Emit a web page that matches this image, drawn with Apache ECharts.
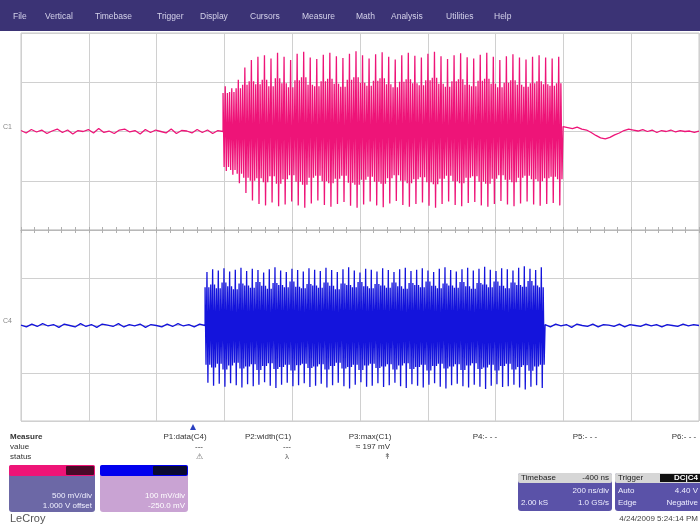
<!DOCTYPE html>
<html><head><meta charset="utf-8">
<script src="https://cdn.jsdelivr.net/npm/echarts/dist/echarts.min.js"></script>
<style>html,body{margin:0;padding:0;background:#fff}#c{width:700px;height:525px}</style>
</head><body><div id="c"></div>
<script>
// ---- data (vertical units: divisions, time: ns) ----
const timeTicks = [0, 200, 400, 600, 800, 1000, 1200, 1400, 1600, 1800, 2000];
const pinkBurst = [596, 1599];
const blueBurst = [543, 1546];
const pinkTop = [0.92,0.88,1.05,1.30,1.45,1.52,1.55,1.48,1.60,1.52,
  1.45,1.58,1.62,1.50,1.47,1.56,1.60,1.53,1.49,1.58,
  1.63,1.55,1.48,1.57,1.61,1.52,1.46,1.55,1.60,1.54,
  1.50,1.58,1.62,1.53,1.47,1.55,1.59,1.51,1.48,1.56,
  1.60,1.52,1.45,1.53,1.57,1.50,1.46,1.52,1.55,1.50,
  1.48,1.52];
const pinkBot = [-0.80,-0.88,-1.05,-1.25,-1.40,-1.47,-1.50,-1.44,-1.52,-1.48,
  -1.42,-1.50,-1.55,-1.46,-1.40,-1.49,-1.53,-1.47,-1.43,-1.51,
  -1.55,-1.48,-1.42,-1.50,-1.54,-1.46,-1.41,-1.49,-1.53,-1.47,
  -1.44,-1.51,-1.55,-1.47,-1.42,-1.49,-1.52,-1.45,-1.43,-1.50,
  -1.53,-1.47,-1.41,-1.48,-1.52,-1.46,-1.42,-1.48,-1.51,-1.47,
  -1.45,-1.50];
const pinkCoreHi = [0.78,0.80,0.88,0.95,1.02,0.96,1.05,0.92,1.08,0.98,
  0.90,1.04,1.10,0.95,0.92,1.02,1.07,0.97,0.91,1.05,
  1.10,0.99,0.93,1.03,1.08,0.96,0.90,1.01,1.06,0.98,
  0.94,1.04,1.09,0.97,0.91,1.02,1.06,0.95,0.92,1.03,
  1.07,0.97,0.90,0.99,1.04,0.95,0.91,0.98,1.02,0.96,
  0.93,0.98];
const pinkCoreLo = [-0.72,-0.78,-0.86,-0.94,-1.00,-0.95,-1.03,-0.91,-1.06,-0.97,
  -0.89,-1.02,-1.08,-0.94,-0.90,-1.01,-1.05,-0.96,-0.90,-1.04,
  -1.08,-0.98,-0.92,-1.02,-1.06,-0.95,-0.89,-1.00,-1.05,-0.97,
  -0.93,-1.03,-1.07,-0.96,-0.90,-1.01,-1.05,-0.94,-0.91,-1.02,
  -1.06,-0.96,-0.89,-0.98,-1.03,-0.94,-0.90,-0.97,-1.01,-0.95,
  -0.92,-0.97];
const blueTop = [1.12,1.18,1.15,1.20,1.13,1.17,1.21,1.14,1.19,1.16,
  1.11,1.18,1.22,1.15,1.12,1.19,1.16,1.13,1.20,1.17,
  1.14,1.21,1.16,1.12,1.18,1.22,1.15,1.11,1.19,1.17,
  1.13,1.20,1.16,1.12,1.18,1.21,1.14,1.17,1.20,1.15,
  1.12,1.19,1.22,1.16,1.13,1.18,1.21,1.15,1.19,1.23,
  1.17,1.14,1.20,1.18,1.15,1.21,1.24,1.19,1.16,1.22];
const blueBot = [-1.20,-1.26,-1.22,-1.28,-1.21,-1.25,-1.30,-1.23,-1.27,-1.24,
  -1.19,-1.26,-1.31,-1.24,-1.20,-1.27,-1.25,-1.21,-1.29,-1.26,
  -1.22,-1.30,-1.25,-1.20,-1.27,-1.32,-1.24,-1.19,-1.28,-1.26,
  -1.21,-1.29,-1.25,-1.20,-1.27,-1.31,-1.23,-1.26,-1.30,-1.24,
  -1.21,-1.28,-1.32,-1.25,-1.22,-1.27,-1.30,-1.24,-1.28,-1.33,
  -1.26,-1.23,-1.29,-1.27,-1.24,-1.30,-1.34,-1.28,-1.25,-1.31];
const blueCoreHi = [0.80,0.86,0.78,0.90,0.82,0.76,0.88,0.84,0.79,0.91,
  0.83,0.77,0.89,0.85,0.80,0.92,0.81,0.78,0.87,0.84,
  0.79,0.90,0.83,0.76,0.88,0.85,0.80,0.91,0.82,0.78,
  0.87,0.84,0.79,0.90,0.82,0.77,0.89,0.85,0.80,0.92,
  0.83,0.78,0.88,0.84,0.79,0.91,0.82,0.77,0.89,0.86,
  0.80,0.92,0.83,0.78,0.90,0.85,0.81,0.93,0.84,0.80];
const blueCoreLo = [-0.82,-0.88,-0.80,-0.92,-0.84,-0.78,-0.90,-0.86,-0.81,-0.93,
  -0.85,-0.79,-0.91,-0.87,-0.82,-0.94,-0.83,-0.80,-0.89,-0.86,
  -0.81,-0.92,-0.85,-0.78,-0.90,-0.87,-0.82,-0.93,-0.84,-0.80,
  -0.89,-0.86,-0.81,-0.92,-0.84,-0.79,-0.91,-0.87,-0.82,-0.94,
  -0.85,-0.80,-0.90,-0.86,-0.81,-0.93,-0.84,-0.79,-0.91,-0.88,
  -0.82,-0.94,-0.85,-0.80,-0.92,-0.87,-0.83,-0.95,-0.86,-0.82];
const pinkPre = [0.02,-0.03,0.04,-0.01,0.03,-0.04,0.01,0.05,-0.02,0.03,
  -0.05,0.02,0.00,0.04,-0.03,0.06,-0.02,0.01,-0.04,0.03,
  0.05,-0.01,0.02,-0.05,0.04,-0.02,0.03,0.00,-0.03,0.05,
  -0.04,0.02,0.01,-0.03,0.04,-0.02,0.03,-0.04,0.02,0.00];
const pinkPost = [0.10,0.08,0.06,0.09,0.05,0.03,-0.02,-0.08,-0.13,-0.15,
  -0.12,-0.07,-0.03,0.02,0.05,0.03,0.01,0.04,0.00,0.03,
  -0.02,0.02,0.00,0.03,-0.01,0.02,0.00,0.01,-0.02,0.01];
const bluePre = [0.01,-0.03,0.03,-0.02,0.04,-0.01,0.02,-0.04,0.03,0.00,
  -0.03,0.04,-0.02,0.02,-0.04,0.03,0.01,-0.02,0.04,-0.03,
  0.02,-0.01,0.03,-0.04,0.02,0.00,-0.03,0.03,-0.02,0.04,
  -0.01,0.02,-0.03,0.03,0.00];
const bluePost = [0.02,-0.03,0.03,-0.01,0.02,-0.04,0.03,0.00,-0.02,0.03,
  -0.03,0.02,0.01,-0.02,0.03,-0.03,0.02,0.00,-0.02,0.03,
  -0.01,0.02,-0.03,0.02,0.00,-0.02,0.03,-0.01,0.02,0.00];

// ---- build series tables from the arrays ----
function seg(vals, t0, t1) {
  return vals.map((v, i) => [t0 + (t1 - t0) * i / (vals.length - 1), v]);
}
function burst(top, bot, cHi, cLo, t0, t1) {
  const out = [];
  const per = (t1 - t0) / top.length;
  for (let i = 0; i < top.length; i++) {
    const pat = [cHi[i], cLo[i], top[i], bot[i], cHi[i], cLo[i]];
    pat.forEach((v, k) => out.push([t0 + i * per + k * per / pat.length, v]));
  }
  return out;
}
const pinkData = [].concat(
  seg(pinkPre, 0, pinkBurst[0]),
  burst(pinkTop, pinkBot, pinkCoreHi, pinkCoreLo, pinkBurst[0], pinkBurst[1]),
  seg(pinkPost, pinkBurst[1], 2000));
const blueData = [].concat(
  seg(bluePre, 0, blueBurst[0]),
  burst(blueTop, blueBot, blueCoreHi, blueCoreLo, blueBurst[0], blueBurst[1]),
  seg(bluePost, blueBurst[1], 2000));

const F = 'Liberation Sans, Arial, sans-serif';
const gridCol = '#d0d0d0';
function xAx(gi, pos) {
  return {
    type: 'value', gridIndex: gi, min: timeTicks[0], max: timeTicks[timeTicks.length - 1],
    interval: 200, position: pos,
    axisLine: {show: true, onZero: false, lineStyle: {color: '#b8b8b8'}},
    axisTick: {show: true, inside: true, length: 3, lineStyle: {color: '#b0b0b0'}},
    minorTick: {show: true, splitNumber: 5, length: 3, lineStyle: {color: '#b0b0b0'}},
    axisLabel: {show: false},
    splitLine: {show: true, lineStyle: {color: gridCol, width: 1}}
  };
}
function yAx(gi) {
  return {
    type: 'value', gridIndex: gi, min: -2, max: 2, interval: 1,
    axisLine: {show: false}, axisTick: {show: false}, axisLabel: {show: false},
    splitLine: {show: true, lineStyle: {color: gridCol, width: 1}}
  };
}
function txt(x, y, s, o) {
  o = o || {};
  return {type: 'text', x: x, y: y, silent: true, z: 100, style: Object.assign({
    text: s, fill: '#333', font: (o.weight || 'normal') + ' ' + (o.size || 8) + 'px ' + F,
    textAlign: o.align || 'left', textVerticalAlign: 'middle'}, o.style || {})};
}
function rect(x, y, w, h, fill, r) {
  return {type: 'rect', silent: true, z: 90, shape: {x: x, y: y, width: w, height: h, r: r || 0}, style: {fill: fill}};
}
const menu = [['File',13],['Vertical',45],['Timebase',95],['Trigger',157],['Display',200],
  ['Cursors',250],['Measure',302],['Math',356],['Analysis',391],['Utilities',446],['Help',494]];

const graphic = [rect(0, 0, 700, 31, '#3b3375')]
  .concat(menu.map(m => txt(m[1], 17, m[0], {size: 8.5, style: {fill: '#d4d2ea'}})))
  .concat([
    txt(3, 127, 'C1', {size: 7, style: {fill: '#888'}}),
    txt(3, 321, 'C4', {size: 7, style: {fill: '#888'}}),
    {type: 'polygon', silent: true, z: 100, shape: {points: [[190, 430], [196, 430], [193, 424]]}, style: {fill: '#2a3fc0'}},
    txt(10, 437, 'Measure', {weight: 'bold'}),
    txt(10, 447, 'value'), txt(10, 457, 'status'),
    txt(185, 437, 'P1:data(C4)', {align: 'center'}),
    txt(268, 437, 'P2:width(C1)', {align: 'center'}),
    txt(370, 437, 'P3:max(C1)', {align: 'center'}),
    txt(485, 437, 'P4:- - -', {align: 'center'}),
    txt(585, 437, 'P5:- - -', {align: 'center'}),
    txt(684, 437, 'P6:- - -', {align: 'center'}),
    txt(199, 447, '---', {align: 'center'}),
    txt(287, 447, '---', {align: 'center'}),
    txt(390, 447, '≈ 197 mV', {align: 'right'}),
    txt(199, 457, '⚠', {align: 'center', style: {fill: '#666'}}),
    txt(287, 457, 'λ', {align: 'center', style: {fill: '#666'}}),
    txt(387, 457, '↟', {align: 'center', style: {fill: '#666'}}),
    // C1 box
    rect(9, 465, 86, 47, '#6c68a6', 3),
    rect(9, 465, 86, 11, '#ee1477', 2),
    rect(66, 466, 28, 9, '#4a0a28', 1),
    txt(92, 496, '500 mV/div', {align: 'right', style: {fill: '#f0f0ff'}}),
    txt(92, 506, '1.000 V offset', {align: 'right', style: {fill: '#f0f0ff'}}),
    // C4 box
    rect(100, 465, 88, 47, '#c9a3d3', 3),
    rect(100, 465, 88, 11, '#0000ee', 2),
    rect(153, 466, 34, 9, '#0a0a30', 1),
    txt(185, 496, '100 mV/div', {align: 'right', style: {fill: '#ffffff'}}),
    txt(185, 506, '-250.0 mV', {align: 'right', style: {fill: '#ffffff'}}),
    // Timebase box
    rect(518, 473, 94, 38, '#5a52a8', 3),
    rect(518, 473, 94, 10, '#d6d6d6', 2),
    txt(521, 478, 'Timebase', {style: {fill: '#222'}}),
    txt(609, 478, '-400 ns', {align: 'right', style: {fill: '#222'}}),
    txt(609, 491, '200 ns/div', {align: 'right', style: {fill: '#eeeeff'}}),
    txt(521, 503, '2.00 kS', {style: {fill: '#eeeeff'}}),
    txt(609, 503, '1.0 GS/s', {align: 'right', style: {fill: '#eeeeff'}}),
    // Trigger box
    rect(615, 473, 88, 38, '#5a52a8', 3),
    rect(615, 473, 88, 10, '#d6d6d6', 2),
    rect(660, 474, 40, 8, '#111', 0),
    txt(618, 478, 'Trigger', {style: {fill: '#222'}}),
    txt(698, 478, 'DC|C4', {align: 'right', weight: 'bold', style: {fill: '#fff'}}),
    txt(618, 491, 'Auto', {style: {fill: '#eeeeff'}}),
    txt(698, 491, '4.40 V', {align: 'right', style: {fill: '#eeeeff'}}),
    txt(618, 503, 'Edge', {style: {fill: '#eeeeff'}}),
    txt(698, 503, 'Negative', {align: 'right', style: {fill: '#eeeeff'}}),
    txt(10, 519, 'LeCroy', {size: 11, style: {fill: '#555'}}),
    txt(698, 519, '4/24/2009 5:24:14 PM', {align: 'right', size: 8, style: {fill: '#444'}})
  ]);

const chart = echarts.init(document.getElementById('c'), null, {renderer: 'canvas'});
chart.setOption({
  animation: false,
  backgroundColor: '#ffffff',
  grid: [
    {left: 21, top: 33, width: 678, height: 197, show: true, borderColor: '#c8c8c8', borderWidth: 1, backgroundColor: '#fff'},
    {left: 21, top: 230, width: 678, height: 191, show: true, borderColor: '#c8c8c8', borderWidth: 1, backgroundColor: '#fff'}
  ],
  xAxis: [xAx(0, 'bottom'), xAx(1, 'top')],
  yAxis: [yAx(0), yAx(1)],
  series: [
    {type: 'line', xAxisIndex: 0, yAxisIndex: 0, data: pinkData, showSymbol: false, symbol: 'none',
      sampling: null, lineStyle: {color: '#ee1478', width: 1.3}, silent: true},
    {type: 'line', xAxisIndex: 1, yAxisIndex: 1, data: blueData, showSymbol: false, symbol: 'none',
      sampling: null, lineStyle: {color: '#1414dc', width: 1.3}, silent: true}
  ],
  graphic: graphic
});
</script></body></html>
